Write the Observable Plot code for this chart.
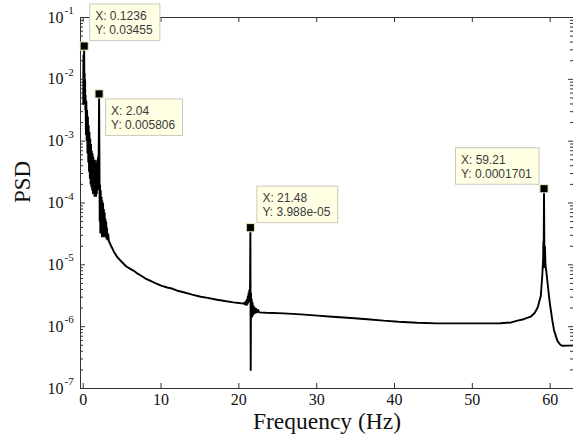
<!DOCTYPE html>
<html><head><meta charset="utf-8">
<script src="https://cdn.jsdelivr.net/npm/d3@7"></script>
<script src="https://cdn.jsdelivr.net/npm/@observablehq/plot@0.6"></script>
<style>body{margin:0;background:#fff} svg{display:block}</style>
</head><body><div id="chart"></div>
<script>
// ---- data ----
const freq = [
  0, 0.03, 0.06, 0.09, 0.1236, 0.15, 0.18, 0.21, 0.24, 0.27, 0.3, 0.35, 0.4, 0.45, 0.5, 0.55, 0.6, 0.65, 0.7, 0.75,
  0.8, 0.85, 0.9, 0.95, 1.0, 1.05, 1.1, 1.15, 1.2, 1.25, 1.3, 1.35, 1.4, 1.45, 1.5, 1.55, 1.6, 1.65, 1.7, 1.75,
  1.8, 1.85, 1.9, 1.95, 2.0, 2.04, 2.08, 2.12, 2.16, 2.2, 2.25, 2.3, 2.35, 2.4, 2.45, 2.5, 2.55, 2.6, 2.65, 2.7,
  2.75, 2.8, 2.85, 2.9, 2.95, 3.0, 3.05, 3.1, 3.2, 3.3,
  3.6, 4.0, 4.4, 5.0, 5.5, 6.0, 6.5, 7.0, 7.5, 8.0, 8.65, 9.5, 10.0, 10.8, 11.5, 12.0, 12.9, 14.0, 15.1, 16.0,
  17.2, 18.2, 19.3, 20.0, 20.6,
  20.7, 20.8, 20.9, 21.0, 21.05, 21.1, 21.15, 21.2, 21.25, 21.3, 21.35, 21.4, 21.44, 21.48, 21.52, 21.56, 21.6, 21.65,
  21.7, 21.75, 21.8, 21.85, 21.9, 22.0, 22.1, 22.2, 22.3, 22.45, 22.6,
  23.5, 25.75, 28.0, 30.1, 32.0, 34.4, 36.5, 38.6, 40.5, 42.9, 45.5, 49.4, 53.6, 55.0, 55.8, 56.6, 57.5, 58.0, 58.4,
  58.8, 59.0, 59.1, 59.13, 59.16, 59.21, 59.25, 59.29, 59.33, 59.4, 59.5, 59.64, 59.8, 59.97, 60.28, 60.5, 60.93,
  61.3, 61.57, 62.2, 63.0
];
const psd = [
  4.0e-3, 2.5e-2, 5.0e-3, 2.0e-2, 3.455e-2, 4.5e-3, 1.26e-2, 4.0e-3, 1.0e-2, 3.2e-3, 5.6e-3, 1.26e-3, 4.5e-3, 1.0e-3, 3.2e-3, 6.3e-4, 2.5e-3, 4.5e-4, 1.8e-3, 3.2e-4,
  1.4e-3, 2.5e-4, 1.1e-3, 2.0e-4, 9.0e-4, 1.8e-4, 7.0e-4, 1.6e-4, 6.3e-4, 1.4e-4, 5.6e-4, 1.4e-4, 5.0e-4, 1.26e-4, 5.0e-4, 1.26e-4, 4.5e-4, 1.26e-4, 4.5e-4, 1.4e-4,
  5.0e-4, 1.6e-4, 5.6e-4, 2.0e-4, 1.0e-3, 5.806e-3, 6.3e-4, 5.0e-5, 2.0e-4, 3.2e-5, 1.6e-4, 3.2e-5, 1.26e-4, 2.8e-5, 1.1e-4, 2.8e-5, 1.0e-4, 2.8e-5, 8.0e-5, 2.8e-5,
  7.0e-5, 2.8e-5, 5.6e-5, 2.8e-5, 5.0e-5, 2.6e-5, 4.0e-5, 2.5e-5, 3.2e-5, 2.4e-5,
  2.0e-5, 1.58e-5, 1.32e-5, 1.10e-5, 9.5e-6, 8.7e-6, 8.0e-6, 7.2e-6, 6.6e-6, 6.0e-6, 5.5e-6, 4.9e-6, 4.6e-6, 4.3e-6, 4.1e-6, 3.85e-6, 3.6e-6, 3.3e-6, 3.05e-6, 2.92e-6,
  2.73e-6, 2.6e-6, 2.47e-6, 2.41e-6, 2.36e-6,
  2.45e-6, 2.24e-6, 2.63e-6, 2.19e-6, 2.82e-6, 2.29e-6, 3.16e-6, 2.4e-6, 3.55e-6, 2.5e-6, 4.0e-6, 2.82e-6, 5.0e-6, 3.988e-5, 1.94e-7, 3.55e-6, 1.41e-6, 2.82e-6,
  1.41e-6, 2.5e-6, 1.51e-6, 2.24e-6, 1.58e-6, 2.09e-6, 1.62e-6, 2.0e-6, 1.66e-6, 1.9e-6, 1.7e-6,
  1.68e-6, 1.64e-6, 1.58e-6, 1.51e-6, 1.45e-6, 1.38e-6, 1.32e-6, 1.25e-6, 1.2e-6, 1.16e-6, 1.13e-6, 1.13e-6, 1.135e-6, 1.17e-6, 1.25e-6, 1.32e-6, 1.45e-6, 1.66e-6, 2.04e-6,
  3.16e-6, 7.1e-6, 1.26e-5, 2.4e-5, 8.9e-6, 1.701e-4, 2.4e-5, 8.9e-6, 2.0e-5, 1.0e-5, 7.9e-6, 5.5e-6, 3.55e-6, 2.34e-6, 1.26e-6, 8.7e-7, 5.9e-7,
  5.1e-7, 4.9e-7, 4.93e-7, 4.93e-7
];
const xTicks = [0, 10, 20, 30, 40, 50, 60];
const yTicks = [1e-7, 1e-6, 1e-5, 1e-4, 1e-3, 1e-2, 1e-1];
const yExponents = ["-7", "-6", "-5", "-4", "-3", "-2", "-1"];
const tipX = [0.1236, 2.04, 21.48, 59.21];
const tipY = [0.03455, 0.005806, 3.988e-5, 0.0001701];
const tipText = ["X: 0.1236\nY: 0.03455", "X: 2.04\nY: 0.005806", "X: 21.48\nY: 3.988e-05", "X: 59.21\nY: 0.0001701"];
const xLabel = "Frequency (Hz)";
const yLabel = "PSD";

// ---- layout ----
const W = 573, H = 437, mL = 80, mT = 17, mR = 0, mB = 49;
const fw = W - mL - mR, fh = H - mT - mB;
const tipOffsets = [[11, -36], [12, 11], [12, -35.5], [-83, -35]];

const series = freq.map((f, i) => ({f, p: psd[i]}));
const tips = tipX.map((x, i) => ({x, y: tipY[i], t: tipText[i]}));
const minorY = [];
for (let e = -7; e < -1; e++) for (let m = 2; m <= 9; m++) minorY.push(m * Math.pow(10, e));

const axisColor = "#333";
const plot = Plot.plot({
  width: W, height: H,
  marginLeft: mL, marginTop: mT, marginRight: mR, marginBottom: mB,
  style: {fontFamily: "'Liberation Serif', 'Times New Roman', serif", background: "#fff", color: "#111"},
  x: {domain: [-0.35, 63]},
  y: {type: "log", domain: [1e-7, 1e-1]},
  marks: [
    Plot.line(series, {x: "f", y: "p", stroke: "#000", strokeWidth: 1.9, strokeLinejoin: "miter"}),
    Plot.frame({stroke: axisColor, strokeWidth: 1}),
    Plot.tickY(yTicks, {y: d => d, insetRight: fw - 5, stroke: axisColor}),
    Plot.tickY(minorY, {y: d => d, insetRight: fw - 3, stroke: axisColor}),
    Plot.tickY(yTicks, {y: d => d, insetLeft: fw - 5, stroke: axisColor}),
    Plot.tickY(minorY, {y: d => d, insetLeft: fw - 3, stroke: axisColor}),
    Plot.tickX(xTicks, {x: d => d, insetTop: fh - 5, stroke: axisColor}),
    Plot.tickX(xTicks, {x: d => d, insetBottom: fh - 5, stroke: axisColor}),
    Plot.axisX(xTicks, {tickSize: 0, tickPadding: 5, fontSize: 16, label: null, fill: "#111"}),
    Plot.axisY(yTicks, {tickSize: 0, tickFormat: () => "", label: null}),
    Plot.text(yTicks, {y: d => d, text: () => "10", frameAnchor: "left", dx: -17, textAnchor: "end", fontSize: 16, fill: "#111"}),
    Plot.text(yTicks, {y: d => d, text: (d, i) => yExponents[i], frameAnchor: "left", dx: -16, dy: -7, textAnchor: "start", fontSize: 11, fill: "#111"}),
    Plot.text([xLabel], {text: d => d, frameAnchor: "bottom", dy: 40, fontSize: 23.5, fill: "#111"}),
    Plot.text([yLabel], {text: d => d, frameAnchor: "left", dx: -58, rotate: -90, fontSize: 23, fill: "#111"}),
    Plot.dot(tips, {x: "x", y: "y", symbol: "square", r: 4.6, fill: "#000", stroke: "#f3efc0", strokeWidth: 1}),
    ...tips.map((t, i) => Plot.text([t], {
      x: "x", y: "y", text: "t", dx: tipOffsets[i][0], dy: tipOffsets[i][1],
      textAnchor: "start", lineAnchor: "top", lineHeight: 1.17, fontSize: 12,
      fontFamily: "'Liberation Sans', Arial, sans-serif", fill: "#3a3a3a", className: "tiptext" + i
    }))
  ]
});
document.getElementById("chart").appendChild(plot);

// boxes behind the data-tip texts
tips.forEach((t, i) => {
  const g = plot.querySelector("g.tiptext" + i) || plot.querySelector(".tiptext" + i);
  if (!g) return;
  const b = g.getBBox();
  const r = document.createElementNS("http://www.w3.org/2000/svg", "rect");
  r.setAttribute("x", b.x - 5.5);
  r.setAttribute("y", b.y - 5);
  r.setAttribute("width", b.width + 12.5);
  r.setAttribute("height", b.height + 8.5);
  r.setAttribute("fill", "#ffffe4");
  r.setAttribute("stroke", "#c9c9bd");
  r.setAttribute("stroke-width", "1");
  const tr = g.getAttribute("transform");
  if (tr) r.setAttribute("transform", tr);
  g.parentNode.insertBefore(r, g);
});
</script>
</body></html>
